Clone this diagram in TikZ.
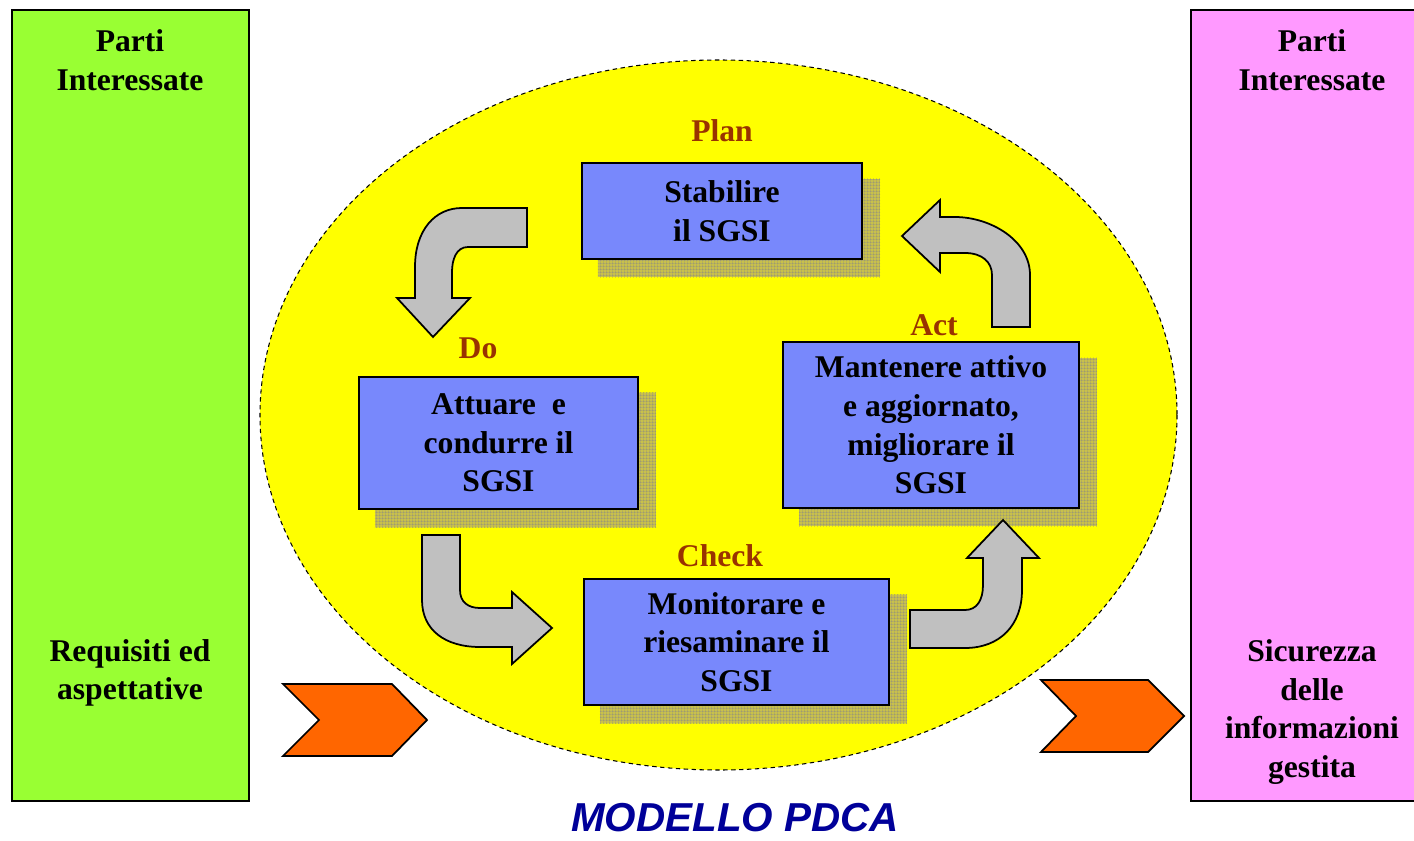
\documentclass[tikz,border=0pt]{standalone}
\usepackage{fontspec}
\setmainfont{Liberation Serif}
\newfontfamily\titlefont{Liberation Sans}
\usetikzlibrary{patterns.meta,backgrounds}
\definecolor{pdcaGreen}{HTML}{99FF33}
\definecolor{pdcaPink}{HTML}{FF99FF}
\definecolor{pdcaYellow}{HTML}{FFFF00}
\definecolor{pdcaBlue}{HTML}{7888FC}
\definecolor{pdcaLabel}{HTML}{993300}
\definecolor{pdcaTitle}{HTML}{000099}
\definecolor{pdcaArrow}{HTML}{C0C0C0}
\definecolor{pdcaOrange}{HTML}{FF6600}
\definecolor{pdcaShadow}{HTML}{C8C04C}
\definecolor{pdcaGrid}{HTML}{888888}
\tikzdeclarepattern{name=shadowgrid, type=uncolored,
  bounding box={(0pt,0pt) and (1.8pt,1.8pt)}, tile size={(1.8pt,1.8pt)},
  code={\draw[line width=0.45pt] (0pt,0pt) -- (1.8pt,0pt) (0pt,0pt) -- (0pt,1.8pt);}}
\newcommand{\pdcafont}{\fontsize{18}{22}\selectfont\bfseries}
\tikzset{
  sidebox/.style={draw=black, line width=1.1pt, fill=#1, inner sep=0pt},
  stepbox/.style={draw=black, line width=1.3pt, fill=pdcaBlue, align=center,
                  font=\pdcafont, inner sep=2pt},
  boxtext/.style={align=center, font=\pdcafont},
  stagelabel/.style={text=pdcaLabel, font=\pdcafont},
  boxshadow/.style={fill=pdcaShadow, postaction={pattern=shadowgrid, pattern color=pdcaGrid}},
  bentarrow/.style={draw=black, line width=1pt, fill=pdcaArrow, line join=miter},
  chevron/.style={draw=black, line width=1pt, fill=pdcaOrange, line join=miter},
}
\begin{document}
\begin{tikzpicture}[x=0.02cm, y=-0.02cm]
\useasboundingbox (0,0) rectangle (1414,841);

% ---- the two stakeholder columns
\node[sidebox=pdcaGreen, minimum width=4.74cm, minimum height=15.82cm] (LEFT) at (130.5,405.5) {};
\node[sidebox=pdcaPink, minimum width=4.9cm, minimum height=15.82cm] (RIGHT) at (1313.5,405.5) {};
\node[boxtext] (LTOP) at (130,60) {Parti\\Interessate};
\node[boxtext] (LBOT) at (130,673) {Requisiti ed\\aspettative};
\node[boxtext] (RTOP) at (1312,60) {Parti\\Interessate};
\node[boxtext] (RBOT) at (1312,712) {Sicurezza\\delle\\informazioni\\gestita};

% ---- the four steps
\node[stepbox, minimum width=5.6cm, minimum height=1.92cm] (PLAN) at (722,211) {Stabilire\\il SGSI};
\node[stepbox, minimum width=5.58cm, minimum height=2.64cm] (DO) at (498.5,443) {Attuare~ e\\condurre il\\SGSI};
\node[stepbox, minimum width=5.92cm, minimum height=3.32cm] (ACT) at (931,425) {Mantenere attivo\\e aggiornato,\\migliorare il\\SGSI};
\node[stepbox, minimum width=6.1cm, minimum height=2.52cm] (CHECK) at (736.5,642) {Monitorare e\\riesaminare il\\SGSI};

\node[stagelabel] (LPLAN)  at (722,131) {Plan};
\node[stagelabel] (LDO)    at (478,348) {Do};
\node[stagelabel] (LACT)   at (934,325) {Act};
\node[stagelabel] (LCHECK) at (720,556) {Check};

% ---- ellipse and shadows
\begin{scope}[on background layer]
  \draw[fill=pdcaYellow, line width=0.6pt, dash pattern=on 2.5pt off 2pt]
    (718.5,415) ellipse [x radius=458.5, y radius=355];
  \foreach \b in {PLAN,DO,ACT,CHECK}
    \path[boxshadow] ([shift={(0.34cm,-0.34cm)}]\b.north west) rectangle ([shift={(0.34cm,-0.34cm)}]\b.south east);
\end{scope}

% ---- bent arrows of the cycle
\draw[bentarrow] (527,208) -- (527,247) -- (468,247) .. controls (456,247) and (452,260) .. (452,272)
  -- (452,298) -- (470,298) -- (433,337) -- (397,298) -- (415,298) -- (415,267)
  .. controls (415,230) and (435,208) .. (462,208) -- cycle;
\draw[bentarrow] (422,535) -- (460,535) -- (460,590) .. controls (460,602) and (468,608) .. (480,608)
  -- (512,608) -- (512,592) -- (552,628) -- (512,664) -- (512,647) -- (480,647)
  .. controls (445,647) and (422,630) .. (422,600) -- cycle;
\draw[bentarrow] (910,648) -- (910,610) -- (965,610) .. controls (977,610) and (983,600) .. (983,585)
  -- (983,558) -- (967,558) -- (1003,520) -- (1039,558) -- (1022,558) -- (1022,590)
  .. controls (1022,625) and (1000,648) .. (965,648) -- cycle;
\draw[bentarrow] (1030,327) -- (1030,275) .. controls (1030,240) and (990,217) .. (955,217)
  -- (940,217) -- (940,200) -- (902,236) -- (940,272) -- (940,253) -- (965,253)
  .. controls (982,253) and (992,262) .. (992,275) -- (992,327) -- cycle;

% ---- input / output chevrons
\draw[chevron] (283,684) -- (392,684) -- (427,720) -- (392,756) -- (283,756) -- (319,720) -- cycle;
\draw[chevron] (1041,680) -- (1148,680) -- (1184,716) -- (1148,752) -- (1041,752) -- (1076,716) -- cycle;

\node[font=\titlefont\fontsize{23}{27}\selectfont\bfseries\itshape, text=pdcaTitle,
      inner sep=0pt, text depth=0pt, anchor=base] (TITLE) at (735,831) {MODELLO PDCA};

\end{tikzpicture}
\end{document}
